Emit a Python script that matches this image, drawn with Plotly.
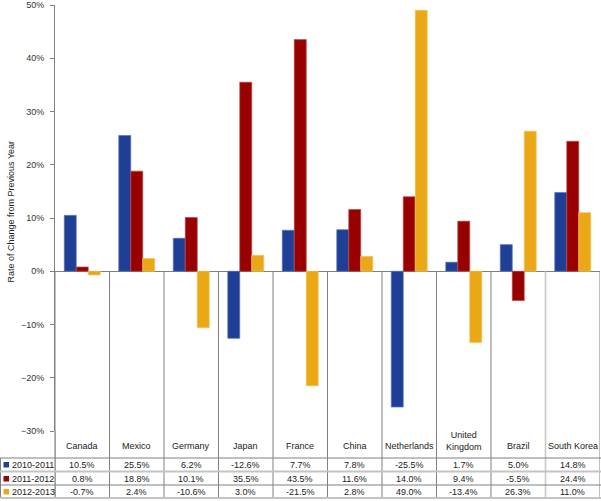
import plotly.graph_objects as go

countries = ["Canada", "Mexico", "Germany", "Japan", "France", "China",
             "Netherlands", "United Kingdom", "Brazil", "South Korea"]
header_labels = ["Canada", "Mexico", "Germany", "Japan", "France", "China",
                 "Netherlands", "United<br>Kingdom", "Brazil", "South Korea"]
series_names = ["2010-2011", "2011-2012", "2012-2013"]
v2010_2011 = [10.5, 25.5, 6.2, -12.6, 7.7, 7.8, -25.5, 1.7, 5.0, 14.8]
v2011_2012 = [0.8, 18.8, 10.1, 35.5, 43.5, 11.6, 14.0, 9.4, -5.5, 24.4]
v2012_2013 = [-0.7, 2.4, -10.6, 3.0, -21.5, 2.8, 49.0, -13.4, 26.3, 11.0]
series_values = [v2010_2011, v2011_2012, v2012_2013]
colors = ["#1F3F96", "#990000", "#EAA816"]
edge_colors = ["#5D74B4", "#B84C4C", "#F1C45E"]

Y_MIN, Y_MAX = -30, 50
W, H = 601, 501
ML, MR, MT, MB = 55, 1, 5, 70
PW = W - ML - MR
PH = H - MT - MB
FONT = "Liberation Sans, Arial, Helvetica, sans-serif"


def py(p):
    """pixel y -> paper y"""
    return (H - MB - p) / PH


def px(p):
    """pixel x -> paper x"""
    return (p - ML) / PW


fig = go.Figure()
for name, vals, c, ec in zip(series_names, series_values, colors, edge_colors):
    fig.add_trace(go.Bar(
        x=list(range(len(countries))), y=vals, name=name,
        marker=dict(color=c, line=dict(color=ec, width=0.7)),
        showlegend=False, hoverinfo="skip",
    ))

zero_paper = (0 - Y_MIN) / (Y_MAX - Y_MIN)
shapes = []
annotations = []

n = len(countries)
for i in range(n + 1):
    col = "#C8C8C8" if i == 9 else "#808080"
    wid = 1.6 if i == 9 else 1
    shapes.append(dict(type="line", xref="x", yref="paper",
                       x0=i - 0.5, x1=i - 0.5, y0=zero_paper, y1=py(498),
                       line=dict(color=col, width=wid), layer="above"))
shapes.append(dict(type="line", xref="paper", yref="paper",
                   x0=0, x1=0, y0=0, y1=py(498),
                   line=dict(color="#808080", width=1)))
shapes.append(dict(type="line", xref="paper", yref="paper",
                   x0=px(0.5), x1=px(0.5), y0=py(458), y1=py(498),
                   line=dict(color="#808080", width=1)))
hlines = [(458, "#808080", 1), (471.5, "#C4C4C4", 1.8),
          (485, "#808080", 1), (498, "#C4C4C4", 1.8)]
for yy, col, wid in hlines:
    shapes.append(dict(type="line", xref="paper", yref="paper",
                       x0=px(0), x1=px(W), y0=py(yy), y1=py(yy),
                       line=dict(color=col, width=wid)))

for i, lab in enumerate(header_labels):
    annotations.append(dict(xref="x", yref="paper", x=i, y=py(446 if "<br>" not in lab else 441),
                            text=lab, showarrow=False, xanchor="center", yanchor="middle",
                            font=dict(family=FONT, size=9, color="#222222")))

row_centers = [464.5, 478.5, 491.5]
for r, (name, vals, c) in enumerate(zip(series_names, series_values, colors)):
    yc = row_centers[r]
    shapes.append(dict(type="rect", xref="paper", yref="paper",
                       x0=px(3.5), x1=px(9), y0=py(yc + 3), y1=py(yc - 2.5),
                       fillcolor=c, line=dict(width=0)))
    annotations.append(dict(xref="paper", yref="paper", x=px(10), y=py(yc),
                            text=name, showarrow=False, xanchor="left", yanchor="middle",
                            font=dict(family=FONT, size=9, color="#222222")))
    for i, v in enumerate(vals):
        annotations.append(dict(xref="x", yref="paper", x=i, y=py(yc),
                                text=f"{v:.1f}%", showarrow=False,
                                xanchor="center", yanchor="middle",
                                font=dict(family=FONT, size=9, color="#222222")))

annotations.append(dict(xref="paper", yref="paper", x=px(10.5), y=py(212),
                        text="Rate of Change from Previous Year", textangle=-90,
                        showarrow=False, xanchor="center", yanchor="middle",
                        font=dict(family=FONT, size=9, color="#222222")))

fig.update_layout(
    width=W, height=H,
    margin=dict(l=ML, r=MR, t=MT, b=MB, pad=0),
    paper_bgcolor="white", plot_bgcolor="white",
    barmode="group", bargap=0.34, bargroupgap=0,
    shapes=shapes, annotations=annotations,
    xaxis=dict(type="linear", range=[-0.5, n - 0.5], showticklabels=False,
               showgrid=False, zeroline=False, showline=False, ticks=""),
    yaxis=dict(range=[Y_MIN, Y_MAX], dtick=10, ticksuffix="%",
               showgrid=False, zeroline=True, zerolinecolor="#808080", zerolinewidth=1.2,
               showline=True, linecolor="#808080", linewidth=1,
               ticks="outside", ticklen=4, tickcolor="#808080",
               ticklabelstandoff=4,
               tickfont=dict(family=FONT, size=9, color="#333333")),
    font=dict(family=FONT),
)

fig.write_html("out.html", config={"displayModeBar": False},
               post_script="document.body.style.margin='0';document.body.style.overflow='hidden';")
